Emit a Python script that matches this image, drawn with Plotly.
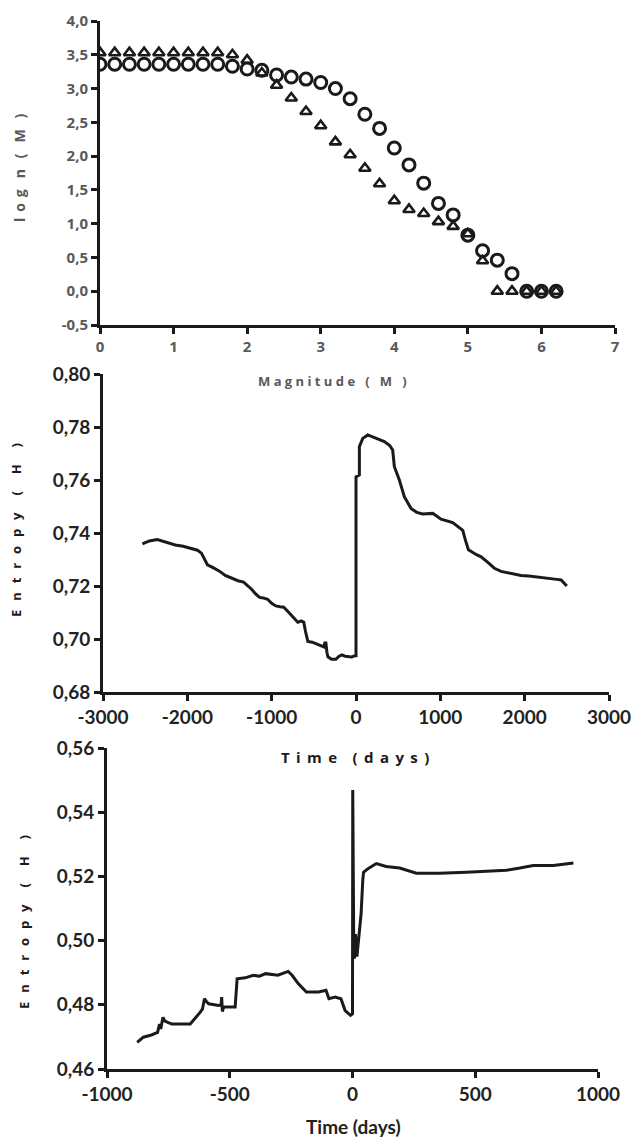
import plotly.graph_objects as go

# ---------------- data ----------------
# Panel 1: log n(M) vs magnitude
mag = [0.0, 0.2, 0.4, 0.6, 0.8, 1.0, 1.2, 1.4, 1.6, 1.8, 2.0, 2.2, 2.4, 2.6, 2.8, 3.0,
       3.2, 3.4, 3.6, 3.8, 4.0, 4.2, 4.4, 4.6, 4.8, 5.0, 5.2, 5.4, 5.6, 5.8, 6.0, 6.2]
logn_tri = [3.53, 3.53, 3.53, 3.53, 3.53, 3.53, 3.53, 3.53, 3.53, 3.50, 3.42, 3.23, 3.05, 2.86, 2.66, 2.45,
            2.21, 2.02, 1.82, 1.59, 1.34, 1.21, 1.15, 1.03, 0.96, 0.85, 0.45, 0.0, 0.0, 0.0, 0.0, 0.0]
logn_circ = [3.36, 3.36, 3.36, 3.36, 3.36, 3.36, 3.36, 3.36, 3.36, 3.33, 3.29, 3.27, 3.20, 3.17, 3.14, 3.09,
             3.00, 2.85, 2.62, 2.41, 2.12, 1.87, 1.60, 1.30, 1.13, 0.83, 0.60, 0.46, 0.26, 0.0, 0.0, 0.0]

# Panel 2: entropy vs time (days)
t2 = [-2533, -2450, -2357, -2250, -2143, -2050, -1952, -1880, -1833, -1790, -1762, -1700, -1619, -1550,
      -1476, -1400, -1333, -1280, -1238, -1190, -1143, -1100, -1048, -1000, -952, -900, -857, -810,
      -762, -720, -690, -650, -619, -600, -571, -520, -476, -430, -381, -370, -357, -345, -333, -290,
      -238, -200, -167, -130, -95, -50, -10, 0, 0, 40, 40, 80, 139, 200, 257, 336, 400, 435, 455,
      514, 573, 652, 720, 791, 910, 1008, 1147, 1266, 1300, 1333, 1429, 1483, 1560, 1641, 1720, 1810,
      1957, 2050, 2155, 2300, 2381, 2432, 2500]
h2 = [0.7359, 0.7370, 0.7375, 0.7365, 0.7355, 0.7350, 0.7343, 0.7335, 0.7324, 0.7300, 0.7280, 0.7270,
      0.7256, 0.7240, 0.7231, 0.7220, 0.7215, 0.7200, 0.7188, 0.7170, 0.7157, 0.7155, 0.7150, 0.7135,
      0.7125, 0.7122, 0.7120, 0.7105, 0.7088, 0.7075, 0.7063, 0.7068, 0.7063, 0.7030, 0.6991, 0.6988,
      0.6983, 0.6975, 0.6970, 0.6985, 0.6985, 0.6950, 0.6933, 0.6924, 0.6924, 0.6935, 0.6940, 0.6935,
      0.6933, 0.6932, 0.6937, 0.6937, 0.7612, 0.7619, 0.7726, 0.7757, 0.7770, 0.7762, 0.7757, 0.7745,
      0.7730, 0.7713, 0.7650, 0.7600, 0.7537, 0.7493, 0.7478, 0.7472, 0.7474, 0.7452, 0.7439, 0.7410,
      0.7370, 0.7337, 0.7318, 0.7310, 0.7290, 0.7267, 0.7255, 0.7250, 0.7240, 0.7238, 0.7233, 0.7228,
      0.7225, 0.7223, 0.7200]

# Panel 3: entropy vs time (days)
t3 = [-877, -852, -819, -794, -786, -781, -772, -765, -755, -736, -661, -636, -620, -611, -603, -595,
      -586, -545, -535, -533, -530, -525, -478, -470, -437, -404, -379, -354, -304, -262, -246, -221,
      -188, -138, -108, -96, -71, -47, -30, -8, 0, 1, 3, 5, 8, 12, 18, 22, 28, 35, 42, 45, 63, 97,
      137, 192, 260, 355, 464, 627, 682, 736, 818, 900]
h3 = [0.4683, 0.4699, 0.4706, 0.4714, 0.4740, 0.4725, 0.4761, 0.4750, 0.4746, 0.4740, 0.4740, 0.4761,
      0.4777, 0.4787, 0.4819, 0.4810, 0.4803, 0.4798, 0.4800, 0.4824, 0.4779, 0.4793, 0.4793, 0.4881,
      0.4884, 0.4892, 0.4889, 0.4897, 0.4892, 0.4904, 0.4892, 0.4866, 0.4840, 0.4840, 0.4845, 0.4819,
      0.4824, 0.4819, 0.4782, 0.4767, 0.4772, 0.5469, 0.5200, 0.5000, 0.4944, 0.5020, 0.4950, 0.4980,
      0.5030, 0.5083, 0.5190, 0.5213, 0.5224, 0.5240, 0.5231, 0.5226, 0.5210, 0.5210, 0.5213, 0.5219,
      0.5226, 0.5234, 0.5234, 0.5242]

# tick labels
x1_ticks = [0, 1, 2, 3, 4, 5, 6, 7]
x1_text = ["0", "1", "2", "3", "4", "5", "6", "7"]
y1_ticks = [-0.5, 0.0, 0.5, 1.0, 1.5, 2.0, 2.5, 3.0, 3.5, 4.0]
y1_text = ["-0,5", "0,0", "0,5", "1,0", "1,5", "2,0", "2,5", "3,0", "3,5", "4,0"]
x2_ticks = [-3000, -2000, -1000, 0, 1000, 2000, 3000]
x2_text = ["-3000", "-2000", "-1000", "0", "1000", "2000", "3000"]
y2_ticks = [0.68, 0.70, 0.72, 0.74, 0.76, 0.78, 0.80]
y2_text = ["0,68", "0,70", "0,72", "0,74", "0,76", "0,78", "0,80"]
x3_ticks = [-1000, -500, 0, 500, 1000]
x3_text = ["-1000", "-500", "0", "500", "1000"]
y3_ticks = [0.46, 0.48, 0.50, 0.52, 0.54, 0.56]
y3_text = ["0,46", "0,48", "0,50", "0,52", "0,54", "0,56"]

# ---------------- figure ----------------
W, H = 634, 1141
def fx(px):
    return px / W
def fy(py):
    return 1 - py / H

NB = "\u00a0"
THIN = "\u2009"
def spaced(s, gap=NB, wordgap=NB * 3):
    # letter-spaced label using non-breaking spaces
    words = s.split(" ")
    return wordgap.join(gap.join(w) for w in words)

INK = "#1a1a1a"
fig = go.Figure()

fig.add_trace(go.Scatter(x=mag, y=logn_tri, mode="markers", xaxis="x", yaxis="y",
                         marker=dict(symbol="triangle-up-open", size=10, color=INK,
                                     line=dict(width=2.6, color=INK)), showlegend=False))
fig.add_trace(go.Scatter(x=mag, y=logn_circ, mode="markers", xaxis="x", yaxis="y",
                         marker=dict(symbol="circle-open", size=12, color=INK,
                                     line=dict(width=3, color=INK)), showlegend=False))
fig.add_trace(go.Scatter(x=t2, y=h2, mode="lines", xaxis="x2", yaxis="y2",
                         line=dict(color=INK, width=3), showlegend=False))
fig.add_trace(go.Scatter(x=t3, y=h3, mode="lines", xaxis="x3", yaxis="y3",
                         line=dict(color=INK, width=3), showlegend=False))

top_font = dict(family="Open Sans", size=15, color="#595959", weight="bold")
low_font = dict(family="Lato", size=19, color="#222222", weight="bold")

axis_common = dict(showgrid=False, zeroline=False, showline=True, linecolor=INK, linewidth=3,
                   ticks="outside", ticklen=6, tickwidth=3, tickcolor=INK, mirror=False,
                   automargin=False, fixedrange=True)

fig.update_layout(
    width=W, height=H,
    margin=dict(l=0, r=0, t=0, b=0, autoexpand=False),
    paper_bgcolor="white", plot_bgcolor="white",
    xaxis=dict(domain=[fx(100), fx(615)], range=[0, 7], tickvals=x1_ticks, ticktext=x1_text,
               tickfont=top_font, anchor="y", **axis_common),
    yaxis=dict(domain=[fy(325), fy(21)], range=[-0.5, 4.0], tickvals=y1_ticks, ticktext=y1_text,
               tickfont=top_font, anchor="x", **axis_common),
    xaxis2=dict(domain=[fx(103), fx(609)], range=[-3000, 3000], tickvals=x2_ticks, ticktext=x2_text,
                tickfont=low_font, anchor="y2", **axis_common),
    yaxis2=dict(domain=[fy(692), fy(374)], range=[0.68, 0.80], tickvals=y2_ticks, ticktext=y2_text,
                tickfont=low_font, anchor="x2", **axis_common),
    xaxis3=dict(domain=[fx(107), fx(598)], range=[-1000, 1000], tickvals=x3_ticks, ticktext=x3_text,
                tickfont=low_font, anchor="y3", **axis_common),
    yaxis3=dict(domain=[fy(1069), fy(748)], range=[0.46, 0.56], tickvals=y3_ticks, ticktext=y3_text,
                tickfont=low_font, anchor="x3", **axis_common),
)

def ann(text, px, py, font, angle=0):
    fig.add_annotation(text=text, x=fx(px), y=fy(py), xref="paper", yref="paper",
                       showarrow=False, textangle=angle, font=font,
                       xanchor="center", yanchor="middle")

ann("<b>" + spaced("Magnitude ( M )", gap=NB, wordgap=NB * 3) + "</b>", 333, 381,
    dict(family="Open Sans", size=13, color="#595959"))
ann("<b>" + spaced("log n ( M )", gap=NB + THIN, wordgap=NB * 3) + "</b>", 19, 168,
    dict(family="Open Sans", size=14, color="#595959"), -90)
ann("<b>" + spaced("Time (days)", gap=NB + THIN, wordgap=NB * 4) + "</b>", 355, 757,
    dict(family="Open Sans", size=15, color="#1a1a1a"))
ent = "<b>" + spaced("Entropy ( H )", gap=NB * 2 + THIN, wordgap=NB * 5) + "</b>"
ann(ent, 16, 530, dict(family="Open Sans", size=13, color="#1a1a1a"), -90)
ann(ent, 24, 922, dict(family="Open Sans", size=13, color="#1a1a1a"), -90)
ann("<b>Time (days)</b>", 353, 1126, dict(family="Lato", size=19, color="#222222"))

fig.write_html("out.html", post_script="document.body.style.margin='0px';",
               config={"displayModeBar": False})
